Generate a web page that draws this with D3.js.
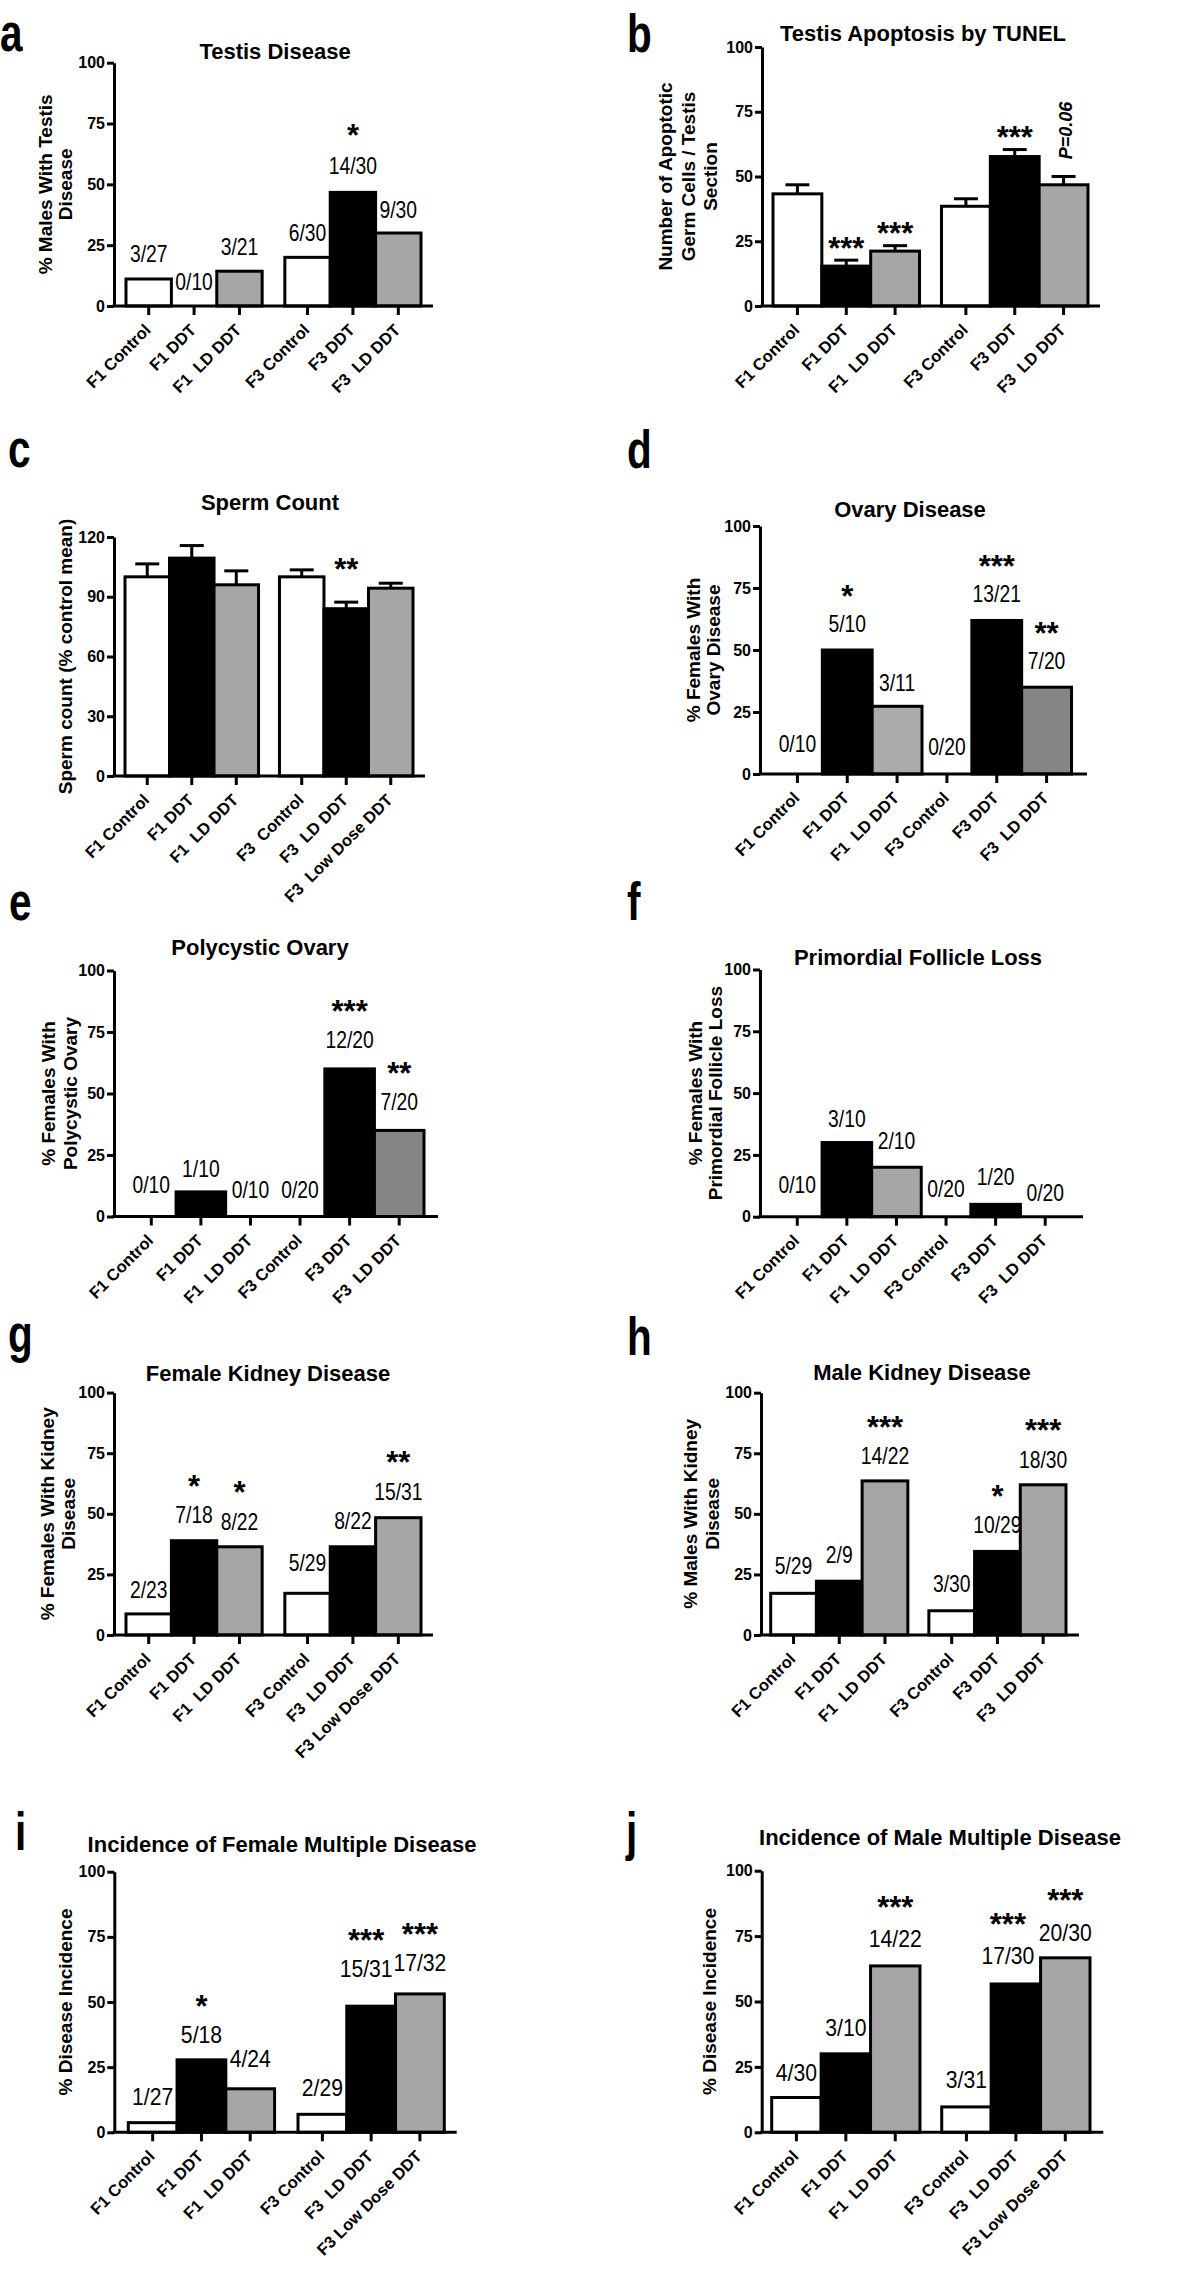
<!DOCTYPE html>
<html><head><meta charset="utf-8">
<script src="https://cdn.jsdelivr.net/npm/d3@7"></script>
<style>body{margin:0;background:#fff} svg text{white-space:pre}</style>
</head><body><svg id="fig" width="1200" height="2283"></svg>
<script>
// ---------------- DATA ----------------
const catsStd = ["F1 Control","F1 DDT","F1  LD DDT","F3 Control","F3 DDT","F3  LD DDT"];
const catsC   = ["F1 Control","F1 DDT","F1  LD DDT","F3  Control","F3  LD DDT","F3  Low Dose DDT"];
const catsLow = ["F1 Control","F1 DDT","F1  LD DDT","F3 Control","F3  LD DDT","F3 Low Dose DDT"];

const titles = ["Testis Disease","Testis Apoptosis by TUNEL","Sperm Count","Ovary Disease","Polycystic Ovary",
  "Primordial Follicle Loss","Female Kidney Disease","Male Kidney Disease",
  "Incidence of Female Multiple Disease","Incidence of Male Multiple Disease"];

const ylabA = ["% Males With Testis","Disease"];
const ylabB = ["Number of Apoptotic","Germ Cells / Testis","Section"];
const ylabC = ["Sperm count (% control mean)"];
const ylabD = ["% Females With","Ovary Disease"];
const ylabE = ["% Females With","Polycystic Ovary"];
const ylabF = ["% Females With","Primordial Follicle Loss"];
const ylabG = ["% Females With Kidney","Disease"];
const ylabH = ["% Males With Kidney","Disease"];
const ylabI = ["% Disease Incidence"];
const ylabJ = ["% Disease Incidence"];

const ticksPct = [0,25,50,75,100];
const ticksSperm = [0,30,60,90,120];

const valsA = [11.1,0,14.3,20,46.7,30];
const fracA = ["3/27","0/10","3/21","6/30","14/30","9/30"];
const starsA = ["","","","","*",""];

const meansB = [43.3,15.4,21.2,38.5,57.7,46.8];
const semB   = [3.5,2.3,2.1,2.9,2.7,3.2];
const starsB = ["","***","***","","***",""];
const noteB  = ["","","","","","P=0.06"];

const meansC = [100,109.4,96,100,84,94.3];
const semC   = [6.5,6.3,7,3.5,3.3,2.5];
const starsC = ["","","","","**",""];

const valsD = [0,50,27.3,0,61.9,35];
const fracD = ["0/10","5/10","3/11","0/20","13/21","7/20"];
const starsD = ["","*","","","***","**"];

const valsE = [0,10,0,0,60,35];
const fracE = ["0/10","1/10","0/10","0/20","12/20","7/20"];
const starsE = ["","","","","***","**"];

const valsF = [0,30,20,0,5,0];
const fracF = ["0/10","3/10","2/10","0/20","1/20","0/20"];
const starsF = ["","","","","",""];

const valsG = [8.7,38.9,36.4,17.2,36.4,48.4];
const fracG = ["2/23","7/18","8/22","5/29","8/22","15/31"];
const starsG = ["","*","*","","","**"];

const valsH = [17.2,22.2,63.6,10,34.5,62];
const fracH = ["5/29","2/9","14/22","3/30","10/29","18/30"];
const starsH = ["","","***","","*","***"];

const valsI = [3.7,27.8,16.7,6.9,48.4,53.1];
const fracI = ["1/27","5/18","4/24","2/29","15/31","17/32"];
const starsI = ["","*","","","***","***"];

const valsJ = [13.3,30,63.6,9.7,56.7,66.7];
const fracJ = ["4/30","3/10","14/22","3/31","17/30","20/30"];
const starsJ = ["","","***","","***","***"];

// ---------------- LAYOUT / STYLE ----------------
const GRAY = "#a6a6a6", DGRAY = "#858585";
const fillsStd = ["#fff","#000",GRAY,"#fff","#000",GRAY];
const layout = {
  a:{ax:114, axEnd:433, y0:306, yTop:62.7, yMax:100, barsL:126, barsR:421, gap:0.5, fills:fillsStd,
     title:[275,59], ylabX:[-69,-49], letter:[0,51], fracOff:[-17,-16,-16,-16,-18,-15], starOff:-46},
  b:{ax:762, axEnd:1100, y0:306, yTop:47, yMax:100, barsL:773, barsR:1088, gap:0.45, fills:fillsStd,
     title:[923,41], ylabX:[-97,-74,-52], letter:[627,52], starOff:-19, noteOff:-46, noteDx:2.5},
  c:{ax:114, axEnd:425, y0:776, yTop:537, yMax:120, barsL:125, barsR:413, gap:0.47, fills:fillsStd,
     title:[270,510], ylabX:[-49], letter:[8,467], starOff:-40},
  d:{ax:760, axEnd:1087, y0:774, yTop:526, yMax:100, barsL:772.5, barsR:1071.5, gap:0,
     fills:["#fff","#000","#ababab","#fff","#000",DGRAY],
     title:[910,517], ylabX:[-67,-47], letter:[627,468], fracOff:[-22,-18,-15,-19,-18,-18], starOff:-43},
  e:{ax:114, axEnd:438, y0:1216.5, yTop:970.5, yMax:100, barsL:126.5, barsR:424, gap:0,
     fills:["#fff","#000",GRAY,"#fff","#000",DGRAY],
     title:[260,955], ylabX:[-66,-44], letter:[9,920], fracOff:[-23.5,-14.6,-18.5,-18.5,-21,-20], starOff:-44},
  f:{ax:760, axEnd:1083, y0:1216.7, yTop:969.5, yMax:100, barsL:772.5, barsR:1070, gap:0, fills:fillsStd,
     title:[918,965], ylabX:[-65,-45], letter:[627,920], fracOff:[-23.4,-16,-18,-20,-19,-15.7], starOff:-44},
  g:{ax:114, axEnd:433, y0:1635, yTop:1392.6, yMax:100, barsL:126, barsR:421, gap:0.5, fills:fillsStd,
     title:[268,1381], ylabX:[-67,-46], letter:[8,1352], fracOff:[-16,-17.6,-17,-22,-18,-18], starOff:-44},
  h:{ax:761, axEnd:1079, y0:1635, yTop:1392.7, yMax:100, barsL:770.7, barsR:1066, gap:0.46, fills:fillsStd,
     title:[922,1380], ylabX:[-71,-49], letter:[627,1355], fracOff:[-19,-18,-17,-19,-18,-17], starOff:-44},
  i:{ax:114.3, axEnd:456.7, y0:2132.3, yTop:1871.7, yMax:100, barsL:128.3, barsR:444.3, gap:0.48, fills:fillsStd,
     title:[282,1852], ylabX:[-49], letter:[15,1850], fracOff:[-17.6,-17,-21.7,-18,-29,-23],
     fracDx:[0,0,0,0,-5,0], starOff:-44, fracSize:23.5, fracSx:0.9},
  j:{ax:761.7, axEnd:1103.3, y0:2132.3, yTop:1870.7, yMax:100, barsL:771.7, barsR:1090, gap:0.44, fills:fillsStd,
     title:[940,1845], ylabX:[-52], letter:[626,1850], fracOff:[-16.7,-17.7,-19,-19,-20,-17],
     fracDx:[0,0,0,0,-8,0], starOff:-47, fracSize:23.5, fracSx:0.9}
};

const panels = [
  {id:"a", cats:catsStd, vals:valsA, frac:fracA, stars:starsA, title:titles[0], ylab:ylabA, ticks:ticksPct},
  {id:"b", cats:catsStd, vals:meansB, sem:semB, stars:starsB, note:noteB, title:titles[1], ylab:ylabB, ticks:ticksPct},
  {id:"c", cats:catsC, vals:meansC, sem:semC, stars:starsC, title:titles[2], ylab:ylabC, ticks:ticksSperm},
  {id:"d", cats:catsStd, vals:valsD, frac:fracD, stars:starsD, title:titles[3], ylab:ylabD, ticks:ticksPct},
  {id:"e", cats:catsStd, vals:valsE, frac:fracE, stars:starsE, title:titles[4], ylab:ylabE, ticks:ticksPct},
  {id:"f", cats:catsStd, vals:valsF, frac:fracF, stars:starsF, title:titles[5], ylab:ylabF, ticks:ticksPct},
  {id:"g", cats:catsLow, vals:valsG, frac:fracG, stars:starsG, title:titles[6], ylab:ylabG, ticks:ticksPct},
  {id:"h", cats:catsStd, vals:valsH, frac:fracH, stars:starsH, title:titles[7], ylab:ylabH, ticks:ticksPct},
  {id:"i", cats:catsLow, vals:valsI, frac:fracI, stars:starsI, title:titles[8], ylab:ylabI, ticks:ticksPct},
  {id:"j", cats:catsLow, vals:valsJ, frac:fracJ, stars:starsJ, title:titles[9], ylab:ylabJ, ticks:ticksPct}
];

// ---------------- DRAW ----------------
const FONT = "'Liberation Sans', Arial, Helvetica, sans-serif";
const svg = d3.select("#fig");
svg.append("rect").attr("width",1200).attr("height",2283).attr("fill","#fff");

function txt(parent, x, y, s, o = {}) {
  const size = o.size || 16, sx = o.sx || 1;
  let tf = `translate(${x},${y})`;
  if (o.rot) tf += ` rotate(${o.rot})`;
  if (sx !== 1) tf += ` scale(${sx},1)`;
  return parent.append("text")
    .attr("transform", tf)
    .attr("text-anchor", o.anchor || "middle")
    .attr("font-family", FONT)
    .attr("font-size", size)
    .attr("font-weight", o.weight || "normal")
    .attr("font-style", o.style || "normal")
    .attr("fill", "#000")
    .text(s);
}

function drawPanel(p) {
  const L = layout[p.id];
  const g = svg.append("g").attr("class", "panel-" + p.id);
  const y = d3.scaleLinear().domain([0, L.yMax]).range([L.y0, L.yTop]);
  const x = d3.scaleLinear().domain([0, 6 + L.gap]).range([L.barsL, L.barsR]);
  const slot = i => i + (i >= 3 ? L.gap : 0);
  const cx = i => x(slot(i) + 0.5);
  const rows = p.vals.map((v, i) => ({i, v, e: p.sem ? p.sem[i] : 0}));

  // bars
  g.selectAll("rect.bar").data(rows.filter(d => d.v > 0)).join("rect")
    .attr("class", "bar")
    .attr("x", d => x(slot(d.i)))
    .attr("width", d => x(slot(d.i) + 1) - x(slot(d.i)))
    .attr("y", d => y(d.v))
    .attr("height", d => L.y0 - y(d.v))
    .attr("fill", d => L.fills[d.i])
    .attr("stroke", "#000").attr("stroke-width", 3);

  // error bars (upper only)
  if (p.sem) {
    g.selectAll("line.err").data(rows).join("line").attr("class", "err")
      .attr("x1", d => cx(d.i)).attr("x2", d => cx(d.i))
      .attr("y1", d => y(d.v)).attr("y2", d => y(d.v + d.e))
      .attr("stroke", "#000").attr("stroke-width", 3);
    g.selectAll("line.cap").data(rows).join("line").attr("class", "cap")
      .attr("x1", d => cx(d.i) - 12).attr("x2", d => cx(d.i) + 12)
      .attr("y1", d => y(d.v + d.e)).attr("y2", d => y(d.v + d.e))
      .attr("stroke", "#000").attr("stroke-width", 3);
  }

  // y axis
  const ya = d3.axisLeft(y).tickValues(p.ticks).tickSize(7).tickSizeOuter(0).tickPadding(2);
  const yg = g.append("g").attr("transform", `translate(${L.ax},0)`).call(ya);
  yg.select(".domain").attr("stroke", "#000").attr("stroke-width", 3);
  yg.selectAll(".tick line").attr("stroke", "#000").attr("stroke-width", 3);
  yg.selectAll(".tick text").attr("font-family", FONT).attr("font-size", 16)
    .attr("font-weight", "bold").attr("fill", "#000");

  // x axis
  g.append("line").attr("x1", L.ax - 1.5).attr("x2", L.axEnd)
    .attr("y1", L.y0).attr("y2", L.y0).attr("stroke", "#000").attr("stroke-width", 3);
  g.selectAll("line.xt").data(p.cats).join("line").attr("class", "xt")
    .attr("x1", (d, i) => cx(i)).attr("x2", (d, i) => cx(i))
    .attr("y1", L.y0).attr("y2", L.y0 + 9)
    .attr("stroke", "#000").attr("stroke-width", 3);
  p.cats.forEach((c, i) => txt(g, cx(i) + 3, L.y0 + 25, c, {size: 16.5, weight: "bold", anchor: "end", rot: -45}));

  // fraction labels
  const refY = [];
  p.vals.forEach((v, i) => {
    if (p.frac) {
      const base = y(v) + L.fracOff[i];
      const dx = L.fracDx ? L.fracDx[i] : 0;
      txt(g, cx(i) + dx, base, p.frac[i], {size: L.fracSize || 23, sx: L.fracSx || 0.84});
      refY.push(base);
    } else {
      refY.push(y(v + (p.sem ? p.sem[i] : 0)));
    }
  });

  // significance stars
  const SS = 31;
  p.stars.forEach((s, i) => {
    if (!s) return;
    const dx = L.fracDx ? L.fracDx[i] : 0;
    const c = refY[i] + L.starOff;
    txt(g, cx(i) + dx, c + 0.57 * SS, s, {size: SS, weight: "bold"});
  });

  // rotated p-value note
  if (p.note) {
    p.note.forEach((n, i) => {
      if (!n) return;
      txt(g, cx(i) + L.noteDx, refY[i] + L.noteOff, n, {size: 18, weight: "bold", style: "italic", rot: -90})
        .attr("dy", "0.35em");
    });
  }

  // title
  txt(g, L.title[0], L.title[1], p.title, {size: 22, weight: "bold"});

  // y label
  const midY = (L.y0 + L.yTop) / 2;
  p.ylab.forEach((line, k) =>
    txt(g, L.ax + L.ylabX[k], midY, line, {size: 19, weight: "bold", rot: -90}).attr("dy", "0.35em"));

  // panel letter
  txt(g, L.letter[0], L.letter[1], p.id, {size: 54, weight: "bold", anchor: "start", sx: 0.75});
}

panels.forEach(drawPanel);
</script>
</body></html>
